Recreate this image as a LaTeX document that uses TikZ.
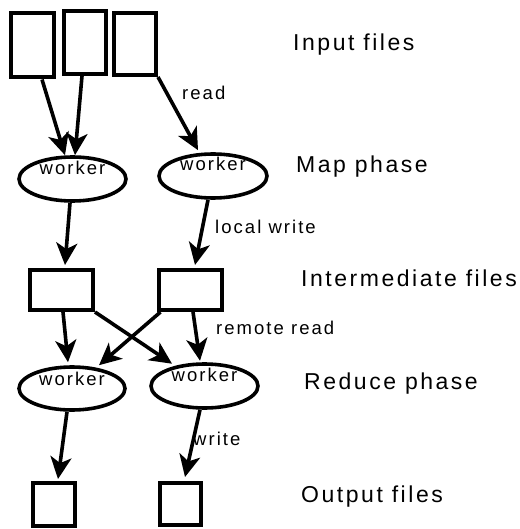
\documentclass[tikz,border=0pt]{standalone}
\usepackage{fontspec}
\newfontfamily\lblfont{Liberation Sans}[LetterSpace=11]
\usetikzlibrary{arrows.meta,shapes.geometric}

\tikzset{
  file/.style={draw, line width=4pt, fill=white, inner sep=0pt},
  worker/.style={draw, ellipse, line width=3.6pt, inner sep=0pt},
  wtext/.style={anchor=base, inner sep=0pt, font=\lblfont\fontsize{18.5}{22}\selectfont},
  edgelbl/.style={anchor=base west, inner sep=0pt, font=\lblfont\fontsize{18.5}{22}\selectfont},
  phase/.style={anchor=base west, inner sep=0pt, font=\lblfont\fontsize{23}{27}\selectfont},
  flow/.style={line width=3.6pt, -{Stealth[length=22pt, width=21pt, inset=6pt]}},
}

\begin{document}
\begin{tikzpicture}[x=1pt, y=-1pt]
\useasboundingbox (0,0) rectangle (519,529);

% input files
\node[file, minimum width=43pt, minimum height=64pt] (in1) at (32.5,45.5) {};
\node[file, minimum width=42pt, minimum height=63pt] (in2) at (85,42.5) {};
\node[file, minimum width=42pt, minimum height=62pt] (in3) at (135,44) {};

% map workers
\node[worker, minimum width=107pt, minimum height=44pt] (m1) at (72.5,179) {};
\node[worker, minimum width=108pt, minimum height=44pt] (m2) at (213,176) {};
\node[wtext] (m1t) at ([yshift=4]m1.center) {worker};
\node[wtext] (m2t) at ([yshift=5.3]m2.center) {worker};

% intermediate files
\node[file, minimum width=63pt, minimum height=40pt] (im1) at (61.5,290) {};
\node[file, minimum width=63pt, minimum height=40pt] (im2) at (190.5,290) {};

% reduce workers
\node[worker, minimum width=106pt, minimum height=43pt] (r1) at (72,388.5) {};
\node[worker, minimum width=107pt, minimum height=44pt] (r2) at (204.5,386) {};
\node[wtext] (r1t) at ([yshift=3.5]r1.center) {worker};
\node[wtext] (r2t) at ([yshift=4.3]r2.center) {worker};

% output files
\node[file, minimum width=42pt, minimum height=43pt] (out1) at (54,504.5) {};
\node[file, minimum width=41pt, minimum height=42pt] (out2) at (180.5,504) {};

% read
\draw[flow] ([xshift=9.5]in1.south) -- ([xshift=-7.5]m1.north);
\draw[flow] ([xshift=-3]in2.south) -- ([xshift=2.5]m1.north);
\draw[flow] (in3.south east) -- ([xshift=-15,yshift=2]m2.north);

% local write
\draw[flow] ([xshift=-2.5]m1.south) -- ([xshift=3.5,yshift=3]im1.north);
\draw[flow] ([xshift=-5]m2.south) -- ([xshift=4.5,yshift=3]im2.north);

% remote read
\draw[flow] ([xshift=1.5]im1.south) -- ([xshift=-4,yshift=3]r1.north);
\draw[flow] (im1.south east) -- ([xshift=-32.5,yshift=-1.5]r2.north);
\draw[flow] ([xshift=3.5]im2.south west) -- ([xshift=27]r1.north);
\draw[flow] ([xshift=2.5]im2.south) -- ([xshift=-4.5,yshift=1.5]r2.north);

% write
\draw[flow] ([xshift=-5]r1.south) -- ([xshift=4,yshift=2]out1.north);
\draw[flow] ([xshift=-4.5]r2.south) -- ([xshift=4.5,yshift=4]out2.north);

% edge labels
\node[edgelbl] (lread) at (182,100) {read};
\node[edgelbl] (llw) at (215,233) {local write};
\node[edgelbl] (lrr) at (216,334) {remote read};
\node[edgelbl] (lw) at (193,445) {write};

% phase labels
\node[phase] (pin) at (293,51) {Input files};
\node[phase] (pmap) at (296,173) {Map phase};
\node[phase] (pint) at (301,286) {Intermediate files};
\node[phase] (pred) at (304,389) {Reduce phase};
\node[phase] (pout) at (301,502) {Output files};
\end{tikzpicture}
\end{document}
